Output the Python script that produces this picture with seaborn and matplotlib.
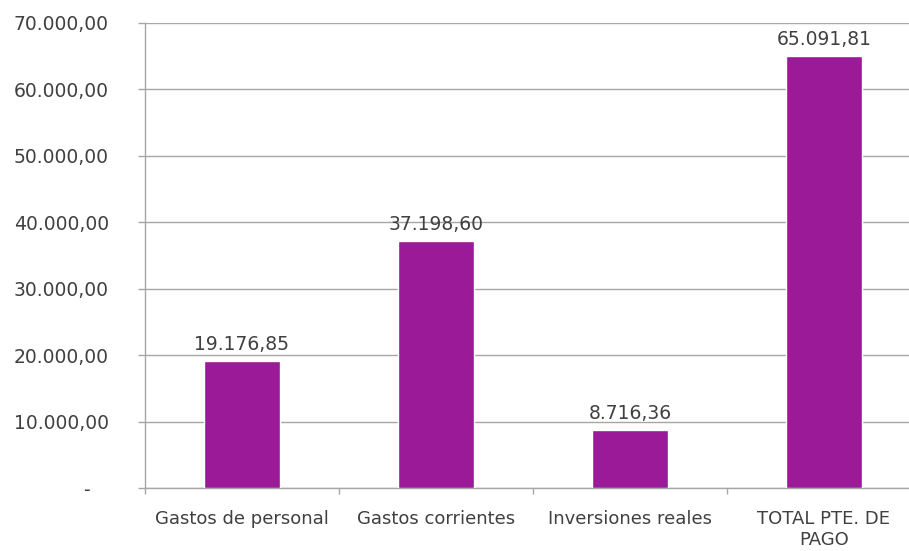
import pandas as pd
import numpy as np
import matplotlib.pyplot as plt
import seaborn as sns

# Data
categorias = ['Gastos de personal', 'Gastos corrientes', 'Inversiones reales', 'TOTAL PTE. DE\nPAGO']
importes = [19176.85, 37198.60, 8716.36, 65091.81]
y_ticks = [0, 10000, 20000, 30000, 40000, 50000, 60000, 70000]

df = pd.DataFrame({'categoria': categorias, 'importe': importes})


def fmt_es(v):
    # Spanish number format: 1.234,56
    return f"{v:,.2f}".replace(",", "X").replace(".", ",").replace("X", ".")


sns.set_style('white')
plt.rcParams['font.family'] = ['DejaVu Sans']

fig = plt.figure(figsize=(9.09, 5.51), dpi=100)
# plot area runs a little past the right edge, as in the original
ax = fig.add_axes([0.1595, 0.1143, 0.8537, 0.844])

sns.barplot(data=df, x='categoria', y='importe', color='#9A1A97', width=0.39,
            saturation=1, ax=ax, zorder=3)

# Value labels above bars
ax.bar_label(ax.containers[0], labels=[fmt_es(v) for v in importes],
             padding=5, fontsize=13.5, color='#404040')

ax.set_ylim(0, 70000)
ax.set_xlim(-0.5, 3.5)
ax.set_yticks(y_ticks)
ax.set_yticklabels(['-   '] + [fmt_es(v) for v in y_ticks[1:]])
ax.yaxis.grid(True, color='#A6A6A6', linewidth=1, zorder=0)
ax.set_axisbelow(True)

ax.set_xlabel('')
ax.set_ylabel('')

# Tick marks between categories on the x axis
ax.set_xticks([-0.5, 0.5, 1.5, 2.5, 3.5], minor=True)
ax.tick_params(axis='x', which='major', length=0, pad=16, labelsize=13, labelcolor='#404040')
ax.tick_params(axis='x', which='minor', length=4, width=1, color='#A6A6A6', direction='out', bottom=True)
ax.tick_params(axis='y', length=5, width=1, color='#A6A6A6', direction='out', left=True,
               pad=21, labelsize=13.5, labelcolor='#404040')

for side in ['top', 'right']:
    ax.spines[side].set_visible(False)
for side in ['left', 'bottom']:
    ax.spines[side].set_color('#A6A6A6')
    ax.spines[side].set_linewidth(1)

plt.savefig('out.png', dpi=100)
